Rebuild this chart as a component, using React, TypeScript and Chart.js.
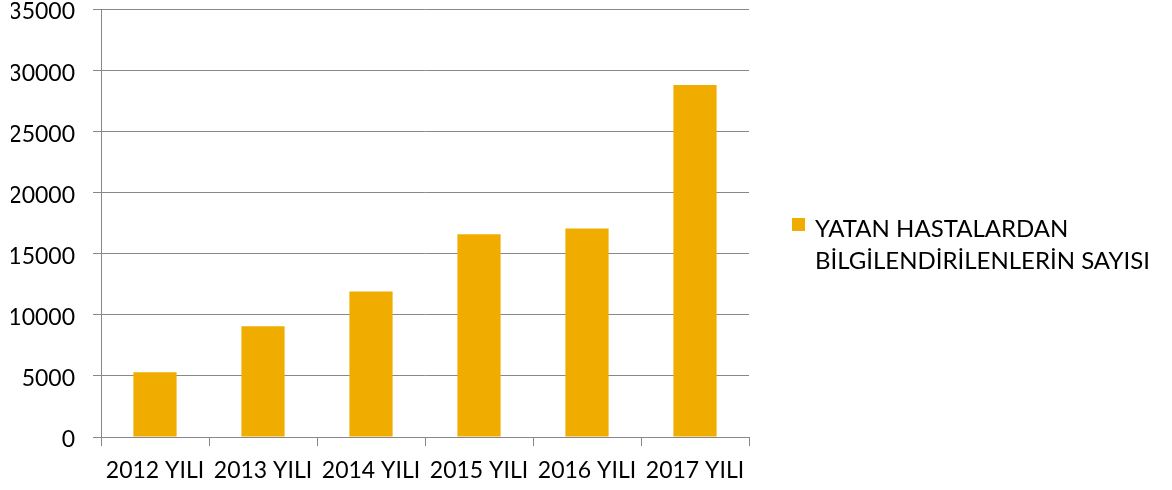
import React, { useEffect, useRef } from "react";
import { Chart, registerables } from "chart.js";

Chart.register(...registerables);

const categories = ["2012 YILI", "2013 YILI", "2014 YILI", "2015 YILI", "2016 YILI", "2017 YILI"];
const seriesLabel = ["YATAN HASTALARDAN", "BİLGİLENDİRİLENLERİN SAYISI"];
const values = [5300, 9050, 11900, 16570, 17060, 28780];
const yMin = 0;
const yMax = 35000;
const yStep = 5000;

const FONT = "Lato, 'Open Sans', sans-serif";
const GRID = "#888888";
const BAR = "#F0AD00";

export default function App() {
  const ref = useRef<HTMLCanvasElement | null>(null);

  useEffect(() => {
    document.body.style.margin = "0";
    const canvas = ref.current;
    if (!canvas) return;
    let chart: Chart | null = null;
    let cancelled = false;
    const build = () => {
      if (cancelled) return;
      chart = new Chart(canvas, {
        type: "bar",
        data: {
          labels: categories,
          datasets: [
            {
              label: seriesLabel.join(" "),
              data: values,
              backgroundColor: BAR,
              borderWidth: 0,
              barPercentage: 0.4,
              categoryPercentage: 1,
            },
          ],
        },
        options: {
          animation: false,
          responsive: false,
          layout: { padding: { left: 11, right: 423, top: 9, bottom: 6 } },
          plugins: {
            tooltip: { enabled: false },
            legend: { display: false },
          },
          scales: {
            x: {
              offset: true,
              grid: {
                display: true,
                offset: true,
                drawOnChartArea: false,
                drawTicks: true,
                tickLength: 9,
                color: GRID,
              },
              border: { display: true, color: GRID },
              ticks: {
                color: "#000",
                padding: 11,
                maxRotation: 0,
                autoSkip: false,
                font: { family: FONT, size: 23, lineHeight: 1.2 },
              },
              afterFit: (s: any) => {
                s.height = 47;
                s.paddingLeft = 0;
                s.paddingRight = 0;
              },
            },
            y: {
              min: yMin,
              max: yMax,
              grid: { color: GRID, tickLength: 8 },
              border: { display: true, color: GRID },
              ticks: {
                stepSize: yStep,
                color: "#000",
                padding: 18,
                labelOffset: 3,
                font: { family: FONT, size: 23, lineHeight: 1 },
                callback: (v: any) => String(v),
              },
              afterFit: (s: any) => {
                s.width = 90;
                s.paddingTop = 0;
                s.paddingBottom = 0;
              },
            },
          },
        },
      });
    };
    Promise.all([document.fonts.load("23px Lato")])
      .catch(() => null)
      .then(build);
    return () => {
      cancelled = true;
      if (chart) chart.destroy();
    };
  }, []);

  return (
    <div style={{ position: "relative", width: 1172, height: 490, fontFamily: FONT }}>
      <canvas ref={ref} width={1172} height={490} style={{ display: "block" }} />
      <div style={{ position: "absolute", left: 792, top: 212 }}>
        <div
          style={{
            position: "absolute",
            left: 0,
            top: 6,
            width: 13,
            height: 13,
            background: BAR,
          }}
        />
        <div
          style={{
            position: "absolute",
            left: 23,
            top: 0,
            fontSize: 24,
            lineHeight: "32px",
            color: "#000",
            whiteSpace: "nowrap",
          }}
        >
          {seriesLabel.map((t) => (
            <div key={t}>{t}</div>
          ))}
        </div>
      </div>
    </div>
  );
}
